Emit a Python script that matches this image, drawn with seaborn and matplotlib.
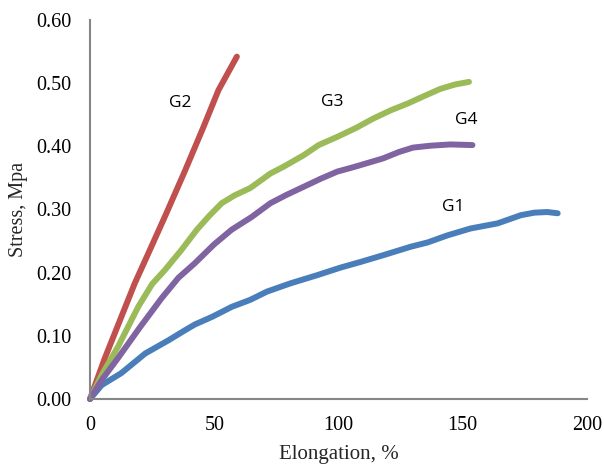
import matplotlib
matplotlib.use("Agg")
import matplotlib.pyplot as plt
import seaborn as sns
import pandas as pd

# ---- data ----
g1_x = [0, 4.7, 12.6, 22.2, 31.6, 38.3, 42.2, 49.1, 57.1, 64.5, 71.2, 80.6, 91.4, 100.8,
        108.9, 118.3, 129, 136, 143.8, 153.2, 164, 173.4, 178.8, 184, 188.2]
g1_y = [0, 0.022, 0.041, 0.072, 0.093, 0.109, 0.118, 0.130, 0.146, 0.157, 0.170, 0.183,
        0.196, 0.208, 0.217, 0.228, 0.241, 0.248, 0.259, 0.270, 0.278, 0.291,
        0.295, 0.296, 0.294]

g2_x = [0, 5.9, 12.6, 18, 24.1, 30.5, 38.3, 45.7, 51.7, 59.1]
g2_y = [0, 0.064, 0.130, 0.183, 0.236, 0.292, 0.362, 0.431, 0.489, 0.542]

g3_x = [0, 4.7, 11.3, 19.4, 25, 30.1, 36.8, 43, 48, 53, 58, 64.5, 72.6, 78, 86, 92,
        99.5, 107, 114, 121, 128, 133, 141, 147, 152.5]
g3_y = [0, 0.038, 0.083, 0.146, 0.182, 0.204, 0.236, 0.268, 0.290, 0.310, 0.322,
        0.334, 0.357, 0.368, 0.386, 0.402, 0.415, 0.429, 0.444, 0.457, 0.468,
        0.477, 0.491, 0.498, 0.502]

g4_x = [0, 4.7, 11.3, 20, 28.9, 35.6, 42.2, 50, 57, 65, 72.6, 79, 86, 93, 99.5, 106,
        112.9, 118, 124.3, 130, 137, 145, 153.9]
g4_y = [0, 0.030, 0.065, 0.113, 0.160, 0.192, 0.215, 0.245, 0.268, 0.288, 0.310,
        0.323, 0.336, 0.349, 0.360, 0.367, 0.375, 0.381, 0.391, 0.398, 0.401,
        0.403, 0.402]

series_names = ["G1", "G2", "G3", "G4"]
label_pos = {"G1": (146, 0.304), "G2": (36.3, 0.468), "G3": (97.6, 0.470), "G4": (151.6, 0.441)}
x_ticks = [0, 50, 100, 150, 200]
y_ticks = [0.0, 0.1, 0.2, 0.3, 0.4, 0.5, 0.6]
x_label = "Elongation, %"
y_label = "Stress, Mpa"

colors = {"G1": "#4A7EBB", "G2": "#C0504D", "G3": "#9BBB59", "G4": "#8064A2"}

frames = []
for name, xs, ys in [("G1", g1_x, g1_y), ("G2", g2_x, g2_y), ("G3", g3_x, g3_y), ("G4", g4_x, g4_y)]:
    frames.append(pd.DataFrame({"x": xs, "y": ys, "series": name}))
df = pd.concat(frames, ignore_index=True)

sns.set_style("white")
plt.rcParams["font.family"] = ["Liberation Serif", "DejaVu Serif"]

fig = plt.figure(figsize=(6.04, 4.67), dpi=100)
ax = fig.add_axes([90 / 604, 1 - 399 / 467, (587 - 90) / 604, (399 - 20) / 467])

sns.lineplot(data=df, x="x", y="y", hue="series", palette=colors, hue_order=series_names,
             linewidth=4.3, estimator=None, sort=False, legend=False, ax=ax)
for line in ax.get_lines():
    line.set_clip_on(False)
    line.set_solid_joinstyle("round")

ax.set_xlim(0, 200)
ax.set_ylim(0, 0.6)
ax.set_xticks(x_ticks)
ax.set_yticks(y_ticks)
ax.set_xticklabels([str(t) for t in x_ticks])
ax.set_yticklabels([f"{t:.2f}" for t in y_ticks])

for s in ["top", "right"]:
    ax.spines[s].set_visible(False)
for s in ["left", "bottom"]:
    ax.spines[s].set_color("#868686")
    ax.spines[s].set_linewidth(1.5)
ax.tick_params(axis="both", which="major", direction="out", length=5, width=1.5,
               color="#868686", labelsize=14.5, labelcolor="black")
ax.tick_params(axis="x", pad=7.5)
ax.tick_params(axis="y", pad=8.5)

ax.set_xlabel(x_label, fontsize=15, labelpad=7)
ax.set_ylabel(y_label, fontsize=14.5, labelpad=6)

for name in series_names:
    px, py = label_pos[name]
    ax.text(px, py, name, fontsize=12.5, family=["Open Sans", "DejaVu Sans"],
            ha="center", va="center", color="black")

fig.savefig("out.png", dpi=100)
